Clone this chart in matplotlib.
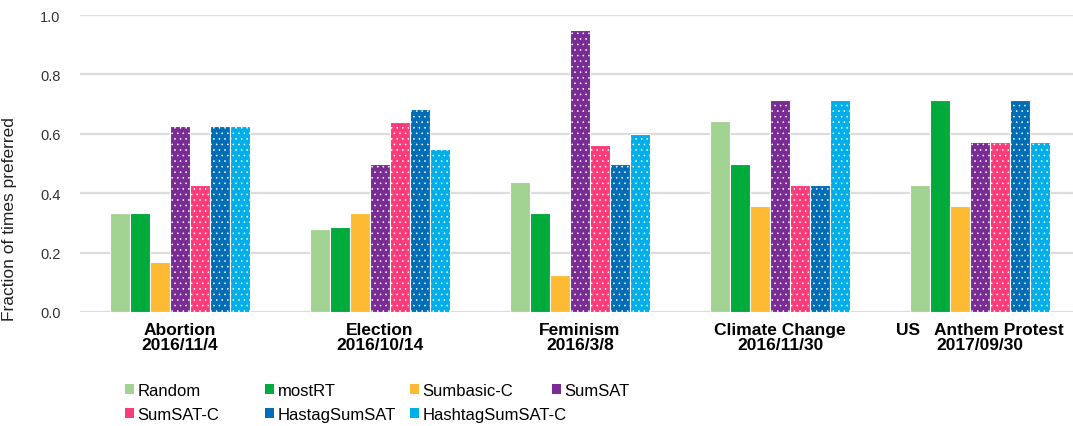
import matplotlib
matplotlib.use("Agg")
import matplotlib.pyplot as plt
from matplotlib.patches import Patch
import numpy as np

plt.rcParams['font.family'] = ['Liberation Sans', 'DejaVu Sans']
plt.rcParams['hatch.color'] = 'white'
plt.rcParams['hatch.linewidth'] = 0.4

topics = ["Abortion\n2016/11/4", "Election\n2016/10/14", "Feminism\n2016/3/8",
          "Climate Change\n2016/11/30", "US   Anthem Protest\n2017/09/30"]
methods = ["Random", "mostRT", "Sumbasic-C", "SumSAT", "SumSAT-C",
           "HastagSumSAT", "HashtagSumSAT-C"]
colors = ["#a3d393", "#00ab3b", "#fdbb33", "#7a2c95", "#fb3b7a", "#006db6", "#00aeea"]
hatched = [False, False, False, True, True, True, True]

random_v   = [0.333, 0.278, 0.438, 0.643, 0.429]
mostrt_v   = [0.333, 0.286, 0.333, 0.500, 0.714]
sumbasic_v = [0.167, 0.333, 0.125, 0.357, 0.357]
sumsat_v   = [0.625, 0.500, 0.950, 0.714, 0.571]
sumsatc_v  = [0.429, 0.640, 0.563, 0.429, 0.571]
hastag_v   = [0.625, 0.682, 0.500, 0.429, 0.714]
hashtagc_v = [0.625, 0.550, 0.600, 0.714, 0.571]
series = [random_v, mostrt_v, sumbasic_v, sumsat_v, sumsatc_v, hastag_v, hashtagc_v]

fig = plt.figure(figsize=(10.73, 4.27), dpi=100)
ax = fig.add_axes([80/1073, 114/427, 993/1073, 297/427])

x = np.arange(len(topics))
w = 0.1
for i, (vals, c, h) in enumerate(zip(series, colors, hatched)):
    ax.bar(x + (i - 3) * w, vals, width=w, color=c, edgecolor='white',
           linewidth=0.8, hatch='...' if h else None, zorder=3)

ax.set_xlim(-0.5, 4.465)
ax.set_ylim(0, 1.0)
ax.set_yticks(np.arange(0, 1.01, 0.2))
ax.set_yticklabels([f"{v:.1f}" for v in np.arange(0, 1.01, 0.2)], fontsize=10.5, color='#333333')
ax.set_xticks(x)
ax.set_xticklabels(topics, fontsize=12.5, fontweight='bold', linespacing=1.05)
ax.tick_params(axis='both', length=0)
ax.tick_params(axis='y', pad=14)
ax.tick_params(axis='x', pad=7)
ax.grid(axis='y', color='#dddddd', linewidth=1.6, zorder=0)
for s in ax.spines.values():
    s.set_visible(False)
ax.set_ylabel("Fraction of times preferred", fontsize=12.5, color='#222222')
ax.yaxis.set_label_coords(-63/993, (313 - 219) / 297)

handles = [Patch(facecolor=c, edgecolor='none') for c in colors]
col_x = [125, 265, 410, 552]
cols = [[0, 4], [1, 5], [2, 6], [3]]
for cx, idxs in zip(col_x, cols):
    fig.legend([handles[k] for k in idxs], [methods[k] for k in idxs],
               loc='upper left', bbox_to_anchor=(cx/1073, 1 - 384/427),
               frameon=False, fontsize=12, handlelength=0.55,
               handleheight=0.55, handletextpad=0.2, labelspacing=0.55,
               borderpad=0, borderaxespad=0)

fig.savefig("out.png", dpi=100)
